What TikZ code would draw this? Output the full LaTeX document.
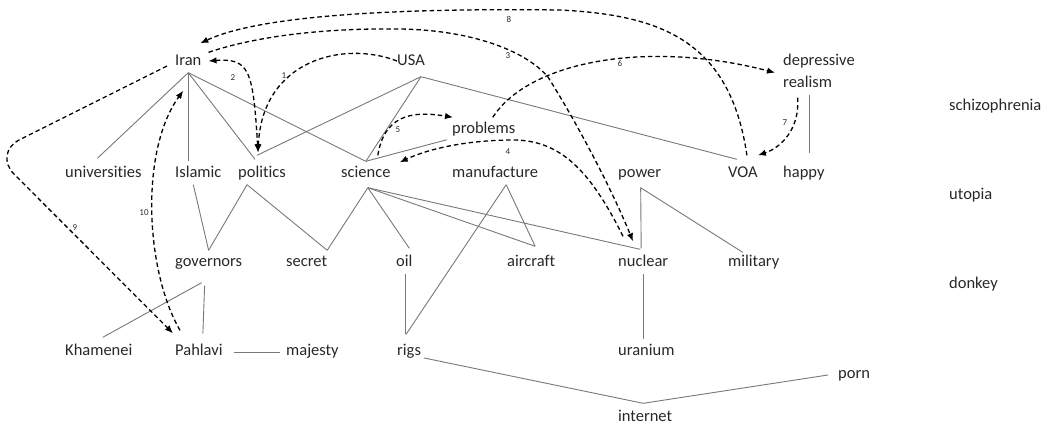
\documentclass[tikz,border=0pt]{standalone}
\usepackage{fontspec}
\setmainfont[Ligatures=NoCommon]{Carlito}
\usetikzlibrary{arrows.meta,calc}
\definecolor{txt}{RGB}{40,40,40}
\definecolor{lncol}{RGB}{120,120,120}
\begin{document}
\begin{tikzpicture}[x=1pt,y=-1pt,
  word/.style={anchor=base west, inner xsep=0pt, inner ysep=4pt, text height=11.5pt, text depth=3.5pt, font=\fontsize{16.5}{20}\selectfont, text=txt},
  lnk/.style={draw=lncol, line width=0.9pt},
  darr/.style={draw=black, line width=1.3pt, dash pattern=on 4.5pt off 3pt, -{Latex[length=8pt,width=6.5pt]}},
  numlab/.style={font=\fontsize{9}{10}\selectfont, text=txt, inner sep=0pt}]
\useasboundingbox (0,0) rectangle (1050,424);
% words
\node[word] (iran) at (175,65) {Iran};
\node[word] (usa) at (397,65) {USA};
\node[word] (dep) at (783,65) {depressive};
\node[word] (real) at (783,87) {realism};
\node[word] (schizo) at (949,110) {schizophrenia};
\node[word] (problems) at (452,133) {problems};
\node[word] (univ) at (65,177) {universities};
\node[word] (islamic) at (175,177) {Islamic};
\node[word] (politics) at (238,177) {politics};
\node[word] (science) at (341,177) {science};
\node[word] (manufacture) at (452,177) {manufacture};
\node[word] (power) at (618,177) {power};
\node[word] (voa) at (728,177) {VOA};
\node[word] (happy) at (783,177) {happy};
\node[word] (utopia) at (949,199) {utopia};
\node[word] (governors) at (175,266) {governors};
\node[word] (secret) at (286,266) {secret};
\node[word] (oil) at (396,266) {oil};
\node[word] (aircraft) at (507,266) {aircraft};
\node[word] (nuclear) at (618,266) {nuclear};
\node[word] (military) at (728,266) {military};
\node[word] (donkey) at (949,288) {donkey};
\node[word] (khamenei) at (65,355) {Khamenei};
\node[word] (pahlavi) at (175,355) {Pahlavi};
\node[word] (majesty) at (286,355) {majesty};
\node[word] (rigs) at (397,355) {rigs};
\node[word] (uranium) at (618,355) {uranium};
\node[word] (porn) at (838,378) {porn};
\node[word] (internet) at (618,421) {internet};
% solid links
\draw[lnk] (iran.south) -- ($(univ.north)+(-6,-3)$);
\draw[lnk] (iran.south) -- (iran.south |- islamic.north);
\draw[lnk] (iran.south) -- ($(politics.north)+(-7,-2)$);
\draw[lnk] (iran.south) -- (science.north);
\draw[lnk] ($(usa.south)+(10,4)$) -- ($(politics.north)+(-5,-6)$);
\draw[lnk] ($(usa.south)+(10,4)$) -- (science.north);
\draw[lnk] ($(usa.south)+(10,4)$) -- ($(voa.north)+(-6,-2)$);
\draw[lnk] ($(problems.south west)+(-5,-1)$) -- (science.north);
\draw[lnk] ($(real.south)+(2,0)$) -- ($(real.south |- happy.north)+(2,-8)$);
\draw[lnk] ($(islamic.south)+(-5,0)$) -- (governors.north);
\draw[lnk] ($(politics.south)+(-15,0)$) -- (governors.north);
\draw[lnk] ($(politics.south)+(-15,0)$) -- (secret.north east);
\draw[lnk] ($(science.south)+(2,3)$) -- (secret.north east);
\draw[lnk] ($(science.south)+(2,3)$) -- ($(oil.north)+(5,-2)$);
\draw[lnk] ($(science.south)+(2,3)$) -- ($(aircraft.north)+(4,-4)$);
\draw[lnk] ($(science.south)+(2,3)$) -- ($(nuclear.north)+(-3,-1)$);
\draw[lnk] ($(manufacture.south)+(11,0)$) -- ($(aircraft.north)+(4,-4)$);
\draw[lnk] ($(manufacture.south)+(11,0)$) -- ($(rigs.north)+(-3,-5)$);
\draw[lnk] ($(oil.south)+(1,0)$) -- ($(oil.south |- rigs.north)+(1,-5)$);
\draw[lnk] ($(power.south)+(1,3)$) -- ($(nuclear.north)+(-2,-2)$);
\draw[lnk] ($(power.south)+(1,3)$) -- ($(military.north)+(-11,2)$);
\draw[lnk] (nuclear.south) -- (nuclear.south |- uranium.north);
\draw[lnk] ($(governors.south)+(-7,9)$) -- ($(khamenei.north)+(4,-2)$);
\draw[lnk] ($(governors.south)+(-4,12)$) -- ($(pahlavi.north)+(4,-6)$);
\draw[lnk] ($(pahlavi.east)+(11,1)$) -- ($(majesty.west)+(-6,1)$);
\draw[lnk] ($(rigs.east)+(3,7)$) -- ($(internet.north)+(-2,-2)$) -- ($(porn.west)+(-10,1)$);
% dashed arrows
\draw[darr] (usa.west) .. controls +(-54,-21) and +(4,-92) .. ($(politics.north)+(-4,-9)$);
\draw[darr, {Latex[length=8pt,width=6.5pt]}-{Latex[length=8pt,width=6.5pt]}] ($(iran.east)+(7,0)$) .. controls +(41,-3) and +(-5,-82) .. ($(politics.north)+(-4,-9)$);
\draw[darr] ($(iran.north east)+(7,3)$) .. controls (260,35) and (330,28) .. (400,29) .. controls (470,30) and (525,50) .. (548,77) .. controls (575,120) and (610,185) .. ($(nuclear.north west)+(15,-9)$);
\draw[darr] ($(nuclear.north west)+(5,-14)$) .. controls (590,170) and (560,140) .. (513,140) .. controls (470,140) and (430,148) .. ($(science.north east)+(9,1)$);
\draw[darr] ($(science.north)+(12,-6)$) .. controls (385,110) and (420,112) .. ($(problems.north west)+(1,0)$);
\draw[darr] ($(problems.north)+(9,0)$) .. controls (530,60) and (650,40) .. ($(dep.south west)+(-8,0)$);
\draw[darr] ($(real.south)+(-10,3)$) .. controls (800,130) and (780,148) .. ($(voa.north)+(15,-6)$);
\draw[darr] ($(voa.north)+(4,-6)$) .. controls (730,40) and (660,15) .. (560,10) .. controls (400,8) and (260,15) .. ($(iran.north)+(12,-6)$);
\draw[darr, rounded corners=30pt] ($(iran.west)+(-8,5)$) -- (-7,153) -- ($(pahlavi.north west)+(-2,-6)$);
\draw[darr] ($(pahlavi.north west)+(5,-9)$) .. controls (145,270) and (140,150) .. ($(iran.south)+(-5,18)$);
% number labels
\node[numlab] (n1) at (284,76) {1};
\node[numlab] (n2) at (233,78) {2};
\node[numlab] (n3) at (508,56) {3};
\node[numlab] (n4) at (508,152) {4};
\node[numlab] (n5) at (398,130) {5};
\node[numlab] (n6) at (620,63) {6};
\node[numlab] (n7) at (785,123) {7};
\node[numlab] (n8) at (509,19) {8};
\node[numlab] (n9) at (75,228) {9};
\node[numlab] (n10) at (144,213) {10};
\end{tikzpicture}
\end{document}
